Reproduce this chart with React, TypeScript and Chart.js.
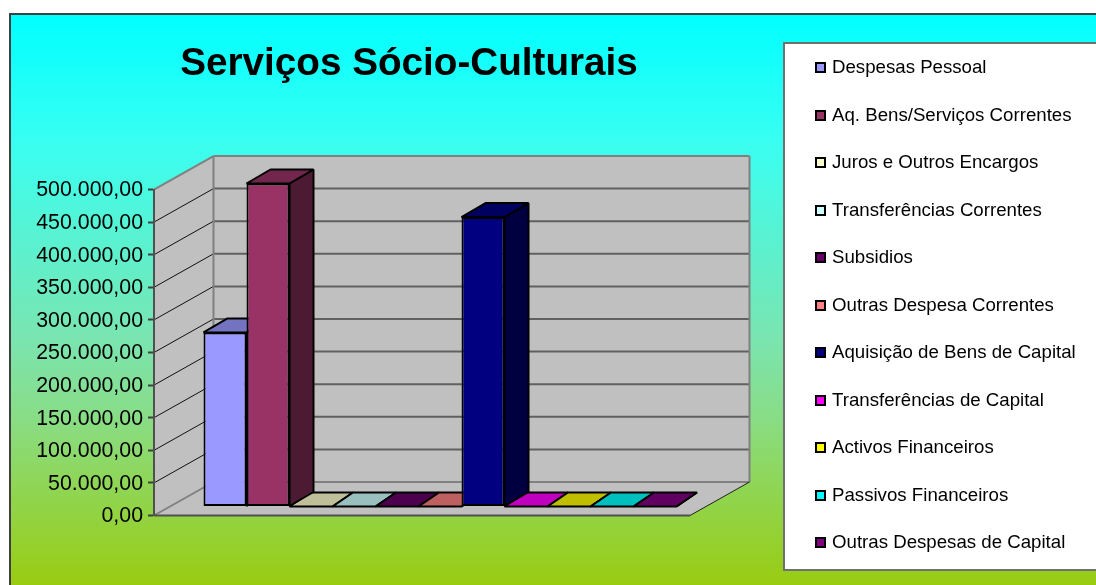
import React, { useEffect, useRef } from "react";
import { Chart, registerables } from "chart.js";

Chart.register(...registerables);

const titleText = "Serviços Sócio-Culturais";
const categories = ["Serviços Sócio-Culturais"];
const seriesNames = [
  "Despesas Pessoal",
  "Aq. Bens/Serviços Correntes",
  "Juros e Outros Encargos",
  "Transferências Correntes",
  "Subsidios",
  "Outras Despesa Correntes",
  "Aquisição de Bens de Capital",
  "Transferências de Capital",
  "Activos Financeiros",
  "Passivos Financeiros",
  "Outras Despesas de Capital",
];
const seriesValues = [266900, 495400, 0, 0, 0, 0, 444000, 0, 0, 0, 0];
const seriesColors = [
  "#9999FF", "#993366", "#FFFFCC", "#CCFFFF", "#660066", "#FF8080",
  "#000080", "#FF00FF", "#FFFF00", "#00FFFF", "#800080",
];

const FONT = '"Liberation Sans", Arial, sans-serif';
const W = 1096;
const H = 585;
const PLOT = { left: 154, top: 189.5, right: 690, bottom: 515.5 };
const WALL = { dx: 59.5, dy: -33.5 };
const BAR_PLANE = { dx: 18, dy: -9 };
const BAR_DEPTH = { dx: 24, dy: -14 };
const FLOOR_DEPTH_DX = 20.5;

const shade = (hex: string, k: number) => {
  const n = parseInt(hex.slice(1), 16);
  const c = [(n >> 16) & 255, (n >> 8) & 255, n & 255].map((v) => Math.round(v * k));
  return `rgb(${c[0]},${c[1]},${c[2]})`;
};

const poly = (ctx: CanvasRenderingContext2D, pts: number[][], fill?: string, stroke?: string, lw = 1) => {
  ctx.beginPath();
  pts.forEach((p, i) => (i ? ctx.lineTo(p[0], p[1]) : ctx.moveTo(p[0], p[1])));
  ctx.closePath();
  if (fill) {
    ctx.fillStyle = fill;
    ctx.fill();
  }
  if (stroke) {
    ctx.strokeStyle = stroke;
    ctx.lineWidth = lw;
    ctx.stroke();
  }
};

const line = (ctx: CanvasRenderingContext2D, x1: number, y1: number, x2: number, y2: number, c: string, lw: number) => {
  ctx.beginPath();
  ctx.moveTo(x1, y1);
  ctx.lineTo(x2, y2);
  ctx.strokeStyle = c;
  ctx.lineWidth = lw;
  ctx.stroke();
};

const scenePlugin = {
  id: "scene",
  afterLayout(chart: any) {
    const t = chart.titleBlock;
    if (t) {
      t.left = 0;
      t.right = 818;
      t.top = 41;
      t.bottom = 87;
    }
  },
  beforeDraw(chart: any) {
    const ctx: CanvasRenderingContext2D = chart.ctx;
    const y = chart.scales.y;
    const a = chart.chartArea;
    ctx.save();
    ctx.fillStyle = "#FFFFFF";
    ctx.fillRect(0, 0, W, H);
    const g = ctx.createLinearGradient(0, 14, 0, 585);
    g.addColorStop(0, "#00FFFF");
    g.addColorStop(0.22, "#38FFF2");
    g.addColorStop(0.57, "#7AE5B0");
    g.addColorStop(0.7, "#88DD88");
    g.addColorStop(1, "#99CC11");
    ctx.fillStyle = g;
    ctx.fillRect(10, 14, W, H);
    ctx.strokeStyle = "#404040";
    ctx.lineWidth = 2;
    ctx.strokeRect(10, 14, W + 10, H + 10);

    const { left: l, right: r, top, bottom } = a;
    const { dx, dy } = WALL;
    const wallFill = "#C0C0C0";
    const edge = "#808080";
    poly(ctx, [[l + dx, top + dy], [r + dx, top + dy], [r + dx, bottom + dy], [l + dx, bottom + dy]], wallFill);
    poly(ctx, [[l, top], [l + dx, top + dy], [l + dx, bottom + dy], [l, bottom]], wallFill);
    poly(ctx, [[l, bottom], [l + dx, bottom + dy], [r + dx, bottom + dy], [r, bottom]], wallFill);
    y.ticks.forEach((tk: any) => {
      const py = y.getPixelForValue(tk.value);
      if (tk.value > 0 && tk.value < y.max) {
        line(ctx, l, py, l + dx, py + dy, "#101010", 1);
        line(ctx, l + dx, py + dy, r + dx, py + dy, "#606060", 2);
      }
    });
    line(ctx, l, top, l + dx, top + dy, edge, 2);
    line(ctx, l + dx, top + dy, r + dx, top + dy, edge, 2);
    line(ctx, r + dx, top + dy, r + dx, bottom + dy, edge, 2);
    line(ctx, l + dx, top + dy, l + dx, bottom + dy, edge, 2);
    line(ctx, l + dx, bottom + dy, r + dx, bottom + dy, edge, 2);
    line(ctx, l, bottom, l + dx, bottom + dy, edge, 2);
    line(ctx, r, bottom, r + dx, bottom + dy, "#202020", 1);
    line(ctx, l, bottom, r, bottom, "#505050", 2);
    ctx.restore();
  },
  beforeDatasetsDraw(chart: any) {
    const ctx: CanvasRenderingContext2D = chart.ctx;
    ctx.save();
    ctx.translate(BAR_PLANE.dx, BAR_PLANE.dy);
    ctx.lineJoin = "bevel";
    // flat (zero) bars go first so that the tall bars' side faces cover them
    const order = seriesNames
      .map((_, i) => i)
      .sort((a, b) => Number(seriesValues[a] > 0) - Number(seriesValues[b] > 0) || a - b);
    order.forEach((i) => {
      const meta = chart.getDatasetMeta(i);
      meta.data.forEach((bar: any) => {
        const { x, y, base, width } = bar.getProps(["x", "y", "base", "width"]);
        const l = x - width / 2;
        const r = x + width / 2;
        const dx = seriesValues[i] > 0 ? BAR_DEPTH.dx : FLOOR_DEPTH_DX;
        const dy = BAR_DEPTH.dy;
        const c = seriesColors[i];
        poly(ctx, [[r, y], [r + dx, y + dy], [r + dx, base + dy], [r, base]], shade(c, 0.5), "#000000", 2);
        poly(ctx, [[l, y], [l + dx, y + dy], [r + dx, y + dy], [r, y]], shade(c, 0.75), "#000000", 2);
        bar.draw(ctx);
      });
    });
    ctx.restore();
    return false;
  },
  afterDraw(chart: any) {
    const ctx: CanvasRenderingContext2D = chart.ctx;
    ctx.save();
    ctx.fillStyle = "#FFFFFF";
    ctx.fillRect(784, 43, W, 527);
    ctx.strokeStyle = "#707070";
    ctx.lineWidth = 2;
    ctx.strokeRect(784, 43, W, 527);
    ctx.font = `18.67px ${FONT}`;
    ctx.textBaseline = "middle";
    ctx.textAlign = "left";
    seriesNames.forEach((name, i) => {
      const cy = 67 + i * 47.5;
      const by = Math.round(cy) - 4;
      ctx.fillStyle = seriesColors[i];
      ctx.fillRect(816, by, 9, 9);
      ctx.strokeStyle = "#000000";
      ctx.lineWidth = 2;
      ctx.strokeRect(816, by, 9, 9);
      ctx.fillStyle = "#000000";
      ctx.fillText(name, 832, cy + 1);
    });
    ctx.restore();
  },
};

export default function App() {
  const ref = useRef<HTMLCanvasElement>(null);
  useEffect(() => {
    const chart = new Chart(ref.current as HTMLCanvasElement, {
      type: "bar",
      data: {
        labels: categories,
        datasets: seriesNames.map((name, i) => ({
          label: name,
          data: [seriesValues[i]],
          backgroundColor: seriesColors[i],
          borderColor: "#000000",
          borderWidth: 2,
          borderSkipped: false,
          categoryPercentage: 473 / 536,
          barPercentage: 1,
        })),
      },
      options: {
        animation: false,
        responsive: false,
        devicePixelRatio: 1,
        layout: {
          padding: { left: 0, top: PLOT.top - 46.4, right: W - PLOT.right, bottom: H - PLOT.bottom },
        },
        plugins: {
          legend: { display: false },
          tooltip: { enabled: false },
          title: {
            display: true,
            text: titleText,
            color: "#000000",
            padding: 0,
            font: { family: FONT, size: 38.67, weight: "bold", lineHeight: 1.2 },
          },
        },
        scales: {
          x: { display: false },
          y: {
            min: 0,
            max: 500000,
            afterFit(scale: any) {
              scale.width = PLOT.left;
            },
            ticks: {
              stepSize: 50000,
              padding: 5,
              labelOffset: 1,
              color: "#000000",
              font: { family: FONT, size: 21.33 },
              callback: (v: any) =>
                Number(v).toFixed(2).replace(".", ",").replace(/\B(?=(\d{3})+(?!\d))/g, "."),
            },
            grid: { drawOnChartArea: false, tickLength: 6, tickColor: "#404040", tickWidth: 2 },
            border: { display: true, color: "#505050", width: 2 },
          },
        },
      },
      plugins: [scenePlugin],
    } as any);
    return () => chart.destroy();
  }, []);
  return (
    <canvas
      ref={ref}
      width={W}
      height={H}
      style={{ position: "fixed", left: 0, top: 0, width: W, height: H, display: "block" }}
    />
  );
}
